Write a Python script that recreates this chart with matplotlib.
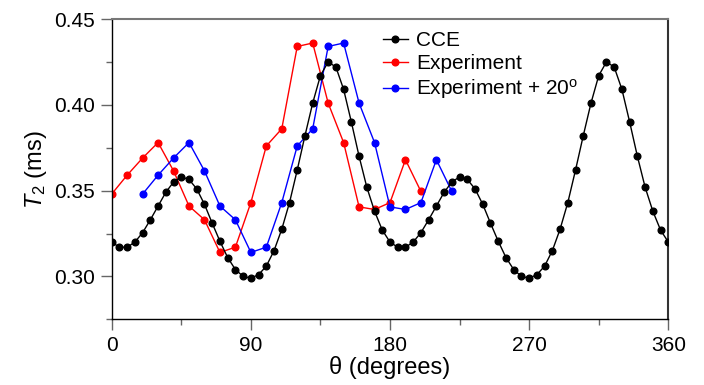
import matplotlib
matplotlib.use("Agg")
import matplotlib.pyplot as plt
from matplotlib.ticker import MultipleLocator, FormatStrFormatter

plt.rcParams['font.family'] = ['Liberation Sans', 'DejaVu Sans']
plt.rcParams['mathtext.fontset'] = 'custom'
plt.rcParams['mathtext.rm'] = 'Liberation Sans'
plt.rcParams['mathtext.it'] = 'Liberation Sans:italic'

# CCE calculation, every 5 degrees from 0 to 360
cce_theta = list(range(0, 361, 5))
cce_t2 = [0.320, 0.317, 0.317, 0.320, 0.3255, 0.333, 0.341, 0.349, 0.355, 0.358,
          0.3565, 0.351, 0.342, 0.331, 0.3205, 0.311, 0.304, 0.300, 0.299, 0.301,
          0.306, 0.315, 0.3275, 0.343, 0.362, 0.382, 0.401, 0.417, 0.425, 0.422,
          0.409, 0.390, 0.370, 0.352, 0.338, 0.327,
          0.320, 0.317, 0.317, 0.320, 0.3255, 0.333, 0.341, 0.349, 0.355, 0.358,
          0.3565, 0.351, 0.342, 0.331, 0.3205, 0.311, 0.304, 0.300, 0.299, 0.301,
          0.306, 0.315, 0.3275, 0.343, 0.362, 0.382, 0.401, 0.417, 0.425, 0.422,
          0.409, 0.390, 0.370, 0.352, 0.338, 0.327, 0.320]

# Experiment
exp_theta = [0, 10, 20, 30, 40, 50, 60, 70, 80, 90, 100, 110, 120, 130, 140,
             150, 160, 170, 180, 190, 200]
exp_t2 = [0.348, 0.359, 0.369, 0.378, 0.3615, 0.341, 0.333, 0.314, 0.317, 0.343,
          0.376, 0.386, 0.434, 0.436, 0.401, 0.378, 0.3405, 0.339, 0.343, 0.368,
          0.3495]

# Experiment + 20 degrees
exp20_theta = [20, 30, 40, 50, 60, 70, 80, 90, 100, 110, 120, 130, 140, 150, 160,
               170, 180, 190, 200, 210, 220]
exp20_t2 = [0.348, 0.359, 0.369, 0.378, 0.3615, 0.341, 0.333, 0.314, 0.317, 0.343,
            0.376, 0.386, 0.434, 0.436, 0.401, 0.378, 0.3405, 0.339, 0.343, 0.368,
            0.3495]

x_ticks = [0, 90, 180, 270, 360]
y_ticks = [0.30, 0.35, 0.40, 0.45]

fig = plt.figure(figsize=(7.04, 3.85), dpi=100)
ax = fig.add_axes([111.7/704, 1-319.3/385, (668.3-111.7)/704, (319.3-19)/385])

ms = 4.8
lw = 1.0
ax.plot(cce_theta, cce_t2, '-o', color='black', ms=ms, lw=lw, label='CCE', zorder=3)
ax.plot(exp_theta, exp_t2, '-o', color='#ff0000', ms=ms, lw=lw, label='Experiment', zorder=2)
ax.plot(exp20_theta, exp20_t2, '-o', color='#0000ff', ms=ms, lw=lw,
        label=r'Experiment + 20$^{\mathregular{o}}$', zorder=2)

ax.set_xlim(0, 360)
ax.set_ylim(0.275, 0.45)
ax.set_xticks(x_ticks)
ax.set_yticks(y_ticks)
ax.xaxis.set_minor_locator(MultipleLocator(45))
ax.yaxis.set_minor_locator(MultipleLocator(0.025))
ax.yaxis.set_major_formatter(FormatStrFormatter('%.2f'))

ax.tick_params(which='major', direction='out', length=8, width=1.0, color='#666666',
               labelsize=15, pad=4)
ax.tick_params(which='minor', direction='out', length=4.5, width=1.0, color='#666666')

for s in ['left', 'bottom']:
    ax.spines[s].set_color('black')
    ax.spines[s].set_linewidth(1.0)
ax.spines['top'].set_color('#777777')
ax.spines['top'].set_linewidth(1.5)
ax.spines['right'].set_color('#333333')
ax.spines['right'].set_linewidth(1.5)

ax.set_xlabel(r'θ (degrees)', fontsize=17, labelpad=1)
ax.set_ylabel(r'$T_2$ (ms)', fontsize=17, labelpad=4)

leg = ax.legend(loc='upper left', bbox_to_anchor=(0.487, 0.96), frameon=False,
                fontsize=15, handlelength=1.2, handletextpad=0.4,
                labelspacing=0.2, borderpad=0, borderaxespad=0)

fig.savefig('out.png', dpi=100)
